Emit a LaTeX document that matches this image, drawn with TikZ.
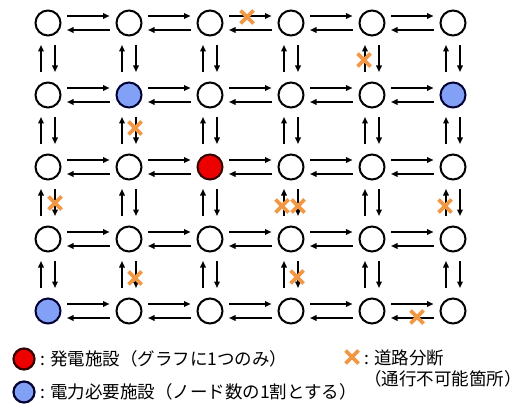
\documentclass[tikz,border=0pt]{standalone}
\usepackage{fontspec}
\setmainfont{Noto Sans CJK JP}
\usetikzlibrary{arrows.meta,calc}
\definecolor{xorange}{RGB}{242,152,68}
\definecolor{needblue}{RGB}{130,160,245}
\definecolor{genred}{RGB}{236,0,0}
\begin{document}
\begin{tikzpicture}[x=1pt,y=-1pt,
  vtx/.style={circle, draw=black, line width=2pt, fill=white, minimum size=25pt, inner sep=0pt},
  gen/.style={vtx, fill=genred, draw=black!80!red},
  need/.style={vtx, fill=needblue, draw=black!80!blue},
  k22/.style={need}, k26/.style={need}, k51/.style={need}, k33/.style={gen},
  arr/.style={-{Triangle[length=6.5pt,width=5.5pt]}, line width=1.5pt},
  xmark/.style={inner sep=0pt, minimum size=20pt,
    path picture={\draw[xorange, line width=3.8pt]
      ($(path picture bounding box.center)+(-6.5,-6.5)$) -- ($(path picture bounding box.center)+(6.5,6.5)$)
      ($(path picture bounding box.center)+(-6.5,6.5)$) -- ($(path picture bounding box.center)+(6.5,-6.5)$);}},
  lbl/.style={inner sep=0pt, font=\fontsize{17.5}{21}\selectfont}]
\useasboundingbox (0,0) rectangle (523,404);
% nodes
\foreach \r/\yy in {1/23,2/95,3/167,4/239,5/311}
  \foreach \c/\xx in {1/48,2/129,3/210,4/291,5/372,6/453}
    \node[vtx, k\r\c/.try] (n\r\c) at (\xx,\yy) {};
% horizontal arrows
\foreach \r in {1,2,3,4,5}
  \foreach \ca/\cb in {1/2,2/3,3/4,4/5,5/6} {
    \draw[arr] ($(n\r\ca.center)+(19,-7)$) -- ($(n\r\cb.center)+(-19.5,-7)$);
    \draw[arr] ($(n\r\cb.center)+(-19.5,7)$) -- ($(n\r\ca.center)+(19,7)$);
  }
% vertical arrows
\foreach \ra/\rb in {1/2,2/3,3/4,4/5}
  \foreach \c in {1,2,3,4,5,6} {
    \draw[arr] ($(n\rb\c.center)+(-7,-23)$) -- ($(n\ra\c.center)+(-7,22)$);
    \draw[arr] ($(n\ra\c.center)+(7,22)$) -- ($(n\rb\c.center)+(7,-23)$);
  }
% road cuts
\node[xmark] (x1) at (247,17) {};
\node[xmark] (x2) at (364,60) {};
\node[xmark] (x3) at (135,128) {};
\node[xmark] (x4) at (55,203) {};
\node[xmark] (x5) at (282,206) {};
\node[xmark] (x6) at (298,206) {};
\node[xmark] (x7) at (445,206) {};
\node[xmark] (x8) at (135,278) {};
\node[xmark] (x9) at (297,277) {};
\node[xmark] (x10) at (417,317) {};
% legend
\node[gen, minimum size=21pt, line width=2.2pt] (lgen) at (24,359) {};
\node[need, minimum size=21pt, line width=2.2pt] (lneed) at (24,392) {};
\node[xmark] (lx) at (352,357) {};
\node[lbl, anchor=west] (tgen) at (40,359) {: 発電施設（グラフに1つのみ）};
\node[lbl, anchor=west] (tneed) at (40,392) {: 電力必要施設（ノード数の1割とする）};
\node[lbl, anchor=west, align=left] (tx1) at (364,358) {: 道路分断};
\node[lbl, anchor=west, align=left] (tx2) at (364,379) {（通行不可能箇所）};
\end{tikzpicture}
\end{document}
